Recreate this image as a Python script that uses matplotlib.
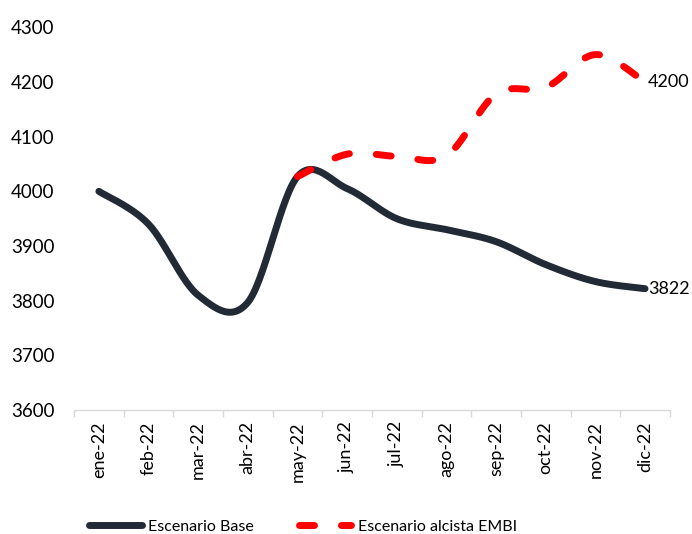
import numpy as np
import matplotlib
matplotlib.use("Agg")
import matplotlib.pyplot as plt
from matplotlib.ticker import FixedLocator

plt.rcParams['font.family'] = ['Lato', 'DejaVu Sans']
plt.rcParams['lines.scale_dashes'] = False

meses = ['ene-22', 'feb-22', 'mar-22', 'abr-22', 'may-22', 'jun-22',
         'jul-22', 'ago-22', 'sep-22', 'oct-22', 'nov-22', 'dic-22']
base = [4000, 3940, 3810, 3797, 4027, 4005, 3950, 3930, 3908, 3866, 3835, 3822]
# the EMBI scenario starts in may-22
embi_inicio = 4
embi = [4027, 4068, 4064, 4065, 4178, 4190, 4250, 4200]


def suavizar(x, y, n=30):
    # catmull-rom curve through the points, like a smoothed line in a spreadsheet
    x = np.asarray(x, float)
    y = np.asarray(y, float)
    xp = np.concatenate([[x[0]], x, [x[-1]]])
    yp = np.concatenate([[y[0]], y, [y[-1]]])
    xs, ys = [], []
    for i in range(1, len(xp) - 2):
        t = np.linspace(0, 1, n, endpoint=False)
        h00 = 2 * t**3 - 3 * t**2 + 1
        h10 = t**3 - 2 * t**2 + t
        h01 = -2 * t**3 + 3 * t**2
        h11 = t**3 - t**2
        mx0 = (xp[i + 1] - xp[i - 1]) / 2
        mx1 = (xp[i + 2] - xp[i]) / 2
        my0 = (yp[i + 1] - yp[i - 1]) / 2
        my1 = (yp[i + 2] - yp[i]) / 2
        xs.append(h00 * xp[i] + h10 * mx0 + h01 * xp[i + 1] + h11 * mx1)
        ys.append(h00 * yp[i] + h10 * my0 + h01 * yp[i + 1] + h11 * my1)
    xs.append([x[-1]])
    ys.append([y[-1]])
    return np.concatenate(xs), np.concatenate(ys)


fig = plt.figure(figsize=(6.92, 5.34), dpi=100)
ax = fig.add_axes([0.107, 0.232, 0.861, 0.717])

x_base = np.arange(len(base))
x_embi = np.arange(embi_inicio, embi_inicio + len(embi))

xb, yb = suavizar(x_base, base)
xe, ye = suavizar(x_embi, embi)

ax.plot(xb, yb, color='#222A35', lw=5, solid_capstyle='round',
        label='Escenario Base', zorder=2)
ax.plot(xe, ye, color='#FF0000', lw=5, dashes=(10.8, 19.4),
        dash_capstyle='round', label='Escenario alcista EMBI', zorder=3)

# value labels at the last month
ax.annotate(f'{base[-1]}', (x_base[-1], base[-1]), xytext=(2, 0),
            textcoords='offset points', va='center', ha='left', fontsize=13)
ax.annotate(f'{embi[-1]}', (x_embi[-1], embi[-1]), xytext=(2, 0),
            textcoords='offset points', va='center', ha='left', fontsize=13)

ax.set_xlim(-0.5, len(meses) - 0.5)
ax.set_ylim(3600, 4300)
ax.set_yticks(np.arange(3600, 4301, 100))
ax.set_xticks(x_base)
ax.set_xticklabels(meses, rotation=90, fontsize=13)
ax.xaxis.set_minor_locator(FixedLocator(np.arange(-0.5, len(meses), 1)))
ax.tick_params(axis='x', which='major', length=0, pad=8)
ax.tick_params(axis='x', which='minor', length=5, width=1, color='#D9D9D9')
ax.tick_params(axis='y', length=0, pad=14, labelsize=13.5)

for lado in ['top', 'right', 'left']:
    ax.spines[lado].set_visible(False)
ax.spines['bottom'].set_color('#D9D9D9')
ax.spines['bottom'].set_linewidth(1)

fig.legend(loc='lower left', bbox_to_anchor=(0.108, -0.027), ncol=2,
           frameon=False, fontsize=11.5, handlelength=3.3, columnspacing=2.8,
           handletextpad=0.4)

fig.savefig('out.png', dpi=100)
